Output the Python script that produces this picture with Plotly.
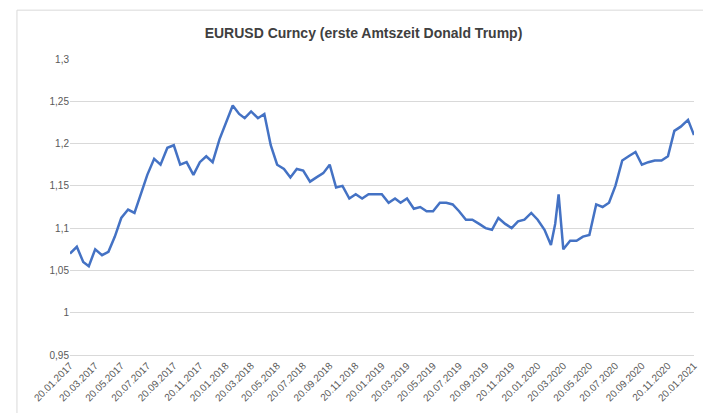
import plotly.graph_objects as go
import pandas as pd

dates = ["2017-01-20","2017-02-05","2017-02-20","2017-03-05","2017-03-20","2017-04-05","2017-04-20","2017-05-05","2017-05-20","2017-06-05","2017-06-20","2017-07-05","2017-07-20","2017-08-05","2017-08-20","2017-09-05","2017-09-20","2017-10-05","2017-10-20","2017-11-05","2017-11-20","2017-12-05","2017-12-20",
"2018-01-05","2018-01-20","2018-02-05","2018-02-20","2018-03-05","2018-03-20","2018-04-05","2018-04-20","2018-05-05","2018-05-20","2018-06-05","2018-06-20","2018-07-05","2018-07-20","2018-08-05","2018-08-20","2018-09-05","2018-09-20","2018-10-05","2018-10-20","2018-11-05","2018-11-20","2018-12-05","2018-12-20",
"2019-01-05","2019-01-20","2019-02-05","2019-02-20","2019-03-05","2019-03-20","2019-04-05","2019-04-20","2019-05-05","2019-05-20","2019-06-05","2019-06-20","2019-07-05","2019-07-20","2019-08-05","2019-08-20","2019-09-05","2019-09-20","2019-10-05","2019-10-20","2019-11-05","2019-11-20","2019-12-05","2019-12-20",
"2020-01-05","2020-01-20","2020-02-05","2020-02-20","2020-03-01","2020-03-09","2020-03-20","2020-04-05","2020-04-20","2020-05-05","2020-05-20","2020-06-05","2020-06-20","2020-07-05","2020-07-20","2020-08-05","2020-08-20","2020-09-05","2020-09-20","2020-10-05","2020-10-20","2020-11-05","2020-11-20","2020-12-05","2020-12-20","2021-01-06","2021-01-20"]
values = [1.070,1.078,1.060,1.055,1.075,1.068,1.072,1.090,1.112,1.122,1.118,1.140,1.163,1.182,1.175,1.195,1.198,1.175,1.178,1.163,1.178,1.185,1.178,
1.205,1.225,1.245,1.235,1.230,1.238,1.230,1.235,1.198,1.175,1.170,1.160,1.170,1.168,1.155,1.160,1.165,1.175,1.148,1.150,1.135,1.140,1.135,1.140,
1.140,1.140,1.130,1.135,1.130,1.135,1.123,1.125,1.120,1.120,1.130,1.130,1.128,1.120,1.110,1.110,1.105,1.100,1.098,1.112,1.105,1.100,1.108,1.110,
1.118,1.110,1.098,1.080,1.105,1.140,1.075,1.085,1.085,1.090,1.092,1.128,1.125,1.130,1.150,1.180,1.185,1.190,1.175,1.178,1.180,1.180,1.185,1.215,1.220,1.228,1.210]

tick_dates = [pd.Timestamp(2017, 1, 20) + pd.DateOffset(months=2 * i) for i in range(25)]
tick_text = [d.strftime("%d.%m.%Y") for d in tick_dates]
y_ticks = [0.95, 1.0, 1.05, 1.1, 1.15, 1.2, 1.25, 1.3]
y_text = ["0,95", "1", "1,05", "1,1", "1,15", "1,2", "1,25", "1,3"]

fig = go.Figure(go.Scatter(x=dates, y=values, mode="lines", line=dict(color="#4472C4", width=2.5)))
fig.update_layout(
    width=711, height=413, paper_bgcolor="white", plot_bgcolor="white",
    margin=dict(l=62, r=25, t=51, b=66), showlegend=False,
    font=dict(family="Liberation Sans, Arial", size=10, color="#595959"),
    title=dict(text="<b>EURUSD Curncy (erste Amtszeit Donald Trump)</b>", x=0.5, y=0.95,
               font=dict(size=14, color="#404040")),
    shapes=[dict(type="rect", xref="paper", yref="paper", x0=-0.085, x1=1.035, y0=-0.22, y1=1.165,
                 line=dict(color="#D9D9D9", width=1))],
)
fig.update_xaxes(range=["2017-01-20", "2021-01-20"], tickvals=[d.strftime("%Y-%m-%d") for d in tick_dates],
                 ticktext=tick_text, tickangle=-45, showgrid=False, showline=True, linecolor="#D9D9D9", ticks="")
fig.update_yaxes(range=[0.95, 1.3], tickvals=y_ticks, ticktext=y_text, showgrid=True,
                 gridcolor="#D9D9D9", zeroline=False, ticks="")
fig.write_html("out.html")
